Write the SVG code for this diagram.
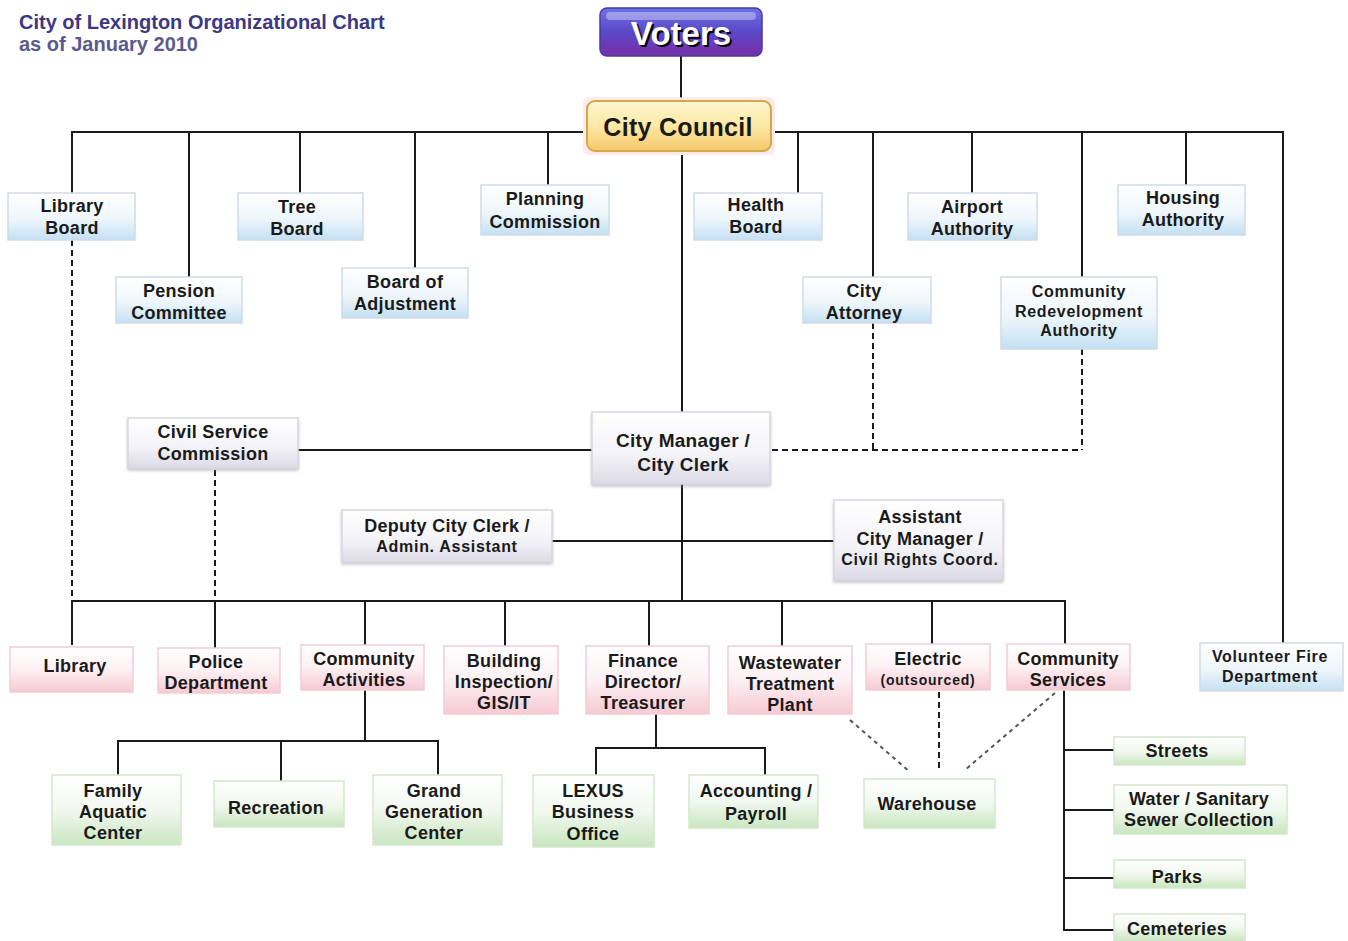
<svg xmlns="http://www.w3.org/2000/svg" width="1348" height="941" viewBox="0 0 1348 941">
<defs>
<linearGradient id="gBlue" x1="0" y1="0" x2="0" y2="1"><stop offset="0" stop-color="#ffffff"/><stop offset="0.55" stop-color="#eef6fb"/><stop offset="1" stop-color="#c4e0f3"/></linearGradient>
<linearGradient id="gPink" x1="0" y1="0" x2="0" y2="1"><stop offset="0" stop-color="#ffffff"/><stop offset="0.5" stop-color="#fdf0f3"/><stop offset="1" stop-color="#f6c9d3"/></linearGradient>
<linearGradient id="gGreen" x1="0" y1="0" x2="0" y2="1"><stop offset="0" stop-color="#ffffff"/><stop offset="0.5" stop-color="#f1f8ef"/><stop offset="1" stop-color="#c9e6c0"/></linearGradient>
<linearGradient id="gGray" x1="0" y1="0" x2="0" y2="1"><stop offset="0" stop-color="#ffffff"/><stop offset="0.6" stop-color="#f3f2f7"/><stop offset="1" stop-color="#dcdae6"/></linearGradient>
<linearGradient id="gVoters" x1="0" y1="0" x2="0" y2="1"><stop offset="0" stop-color="#6f73e6"/><stop offset="0.5" stop-color="#5a48c8"/><stop offset="1" stop-color="#7a2ea8"/></linearGradient>
<linearGradient id="gCouncil" x1="0" y1="0" x2="0" y2="1"><stop offset="0" stop-color="#fff6cf"/><stop offset="0.5" stop-color="#fde9a6"/><stop offset="1" stop-color="#f4c76a"/></linearGradient>
<filter id="sh" x="-10%" y="-10%" width="120%" height="130%"><feDropShadow dx="0" dy="2" stdDeviation="1.5" flood-color="#888" flood-opacity="0.45"/></filter>
</defs>
<style>
.t{font-family:"Liberation Sans",Arial,sans-serif;font-weight:bold;font-size:18px;letter-spacing:0.3px;fill:#1a1a1a;text-anchor:middle}
.s{font-size:16px;letter-spacing:0.7px}
.xs{font-size:14px;letter-spacing:0.8px}
.hd{font-family:"Liberation Sans",Arial,sans-serif;font-weight:bold;font-size:20px}
.ln{stroke:#1a1a1a;stroke-width:2;fill:none}
.dl{stroke:#1a1a1a;stroke-width:2;fill:none;stroke-dasharray:6,4}
.dg{stroke:#555;stroke-width:2;fill:none;stroke-dasharray:4,4}
.blue{fill:url(#gBlue);stroke:#cfdbe8;stroke-width:1.5}
.pink{fill:url(#gPink);stroke:#f2cdd6;stroke-width:1.5}
.green{fill:url(#gGreen);stroke:#d4e8cd;stroke-width:1.5}
.gray{fill:url(#gGray);stroke:#d8d6e2;stroke-width:1.5;filter:url(#sh)}
</style>
<rect width="1348" height="941" fill="#ffffff"/>
<g id="title">
<text class="hd" x="19" y="29" fill="#3d3884">City of Lexington Organizational Chart</text>
<text class="hd" x="19" y="51" fill="#5b5a8e">as of January 2010</text>
</g>
<g id="connectors">
<path class="ln" d="M681,56V98"/>
<path class="ln" d="M72,193V132H583M775,132H1283V643"/>
<path class="ln" d="M189,132V277M300,132V193M415,132V268M548,132V185M798,132V193M873,132V277M972,132V193M1082,132V277M1186,132V185"/>
<path class="ln" d="M682,155V412"/>
<path class="ln" d="M298,450H592"/>
<path class="ln" d="M682,484V601M552,541H834"/>
<path class="ln" d="M72,645V601H1065V644M215,601V648M365,601V645M505,601V646M649,601V646M782,601V646M932,601V644"/>
<path class="dl" d="M72,240V601M215,470V601"/>
<path class="dl" d="M873,323V450M1082,349V450M772,450H1082"/>
<path class="ln" d="M365,690V741M118,775V741H438V775M281,741V781"/>
<path class="ln" d="M656,714V748M596,775V748H765V775"/>
<path class="dg" d="M850,720L910,772M1055,693L965,770"/>
<path class="dl" d="M939,692V772"/>
<path class="ln" d="M1064,690V930H1114M1064,750H1114M1064,810H1114M1064,878H1114"/>
</g>
<g id="voters">
<rect x="600" y="8" width="162" height="48" rx="7" fill="url(#gVoters)" stroke="#4a3aa0" stroke-width="1.5"/>
<rect x="606" y="12" width="150" height="8" rx="4" fill="#ffffff" opacity="0.35"/>
<text x="681" y="45" style="font-family:'Liberation Sans',Arial,sans-serif;font-weight:bold;font-size:33px;fill:#000;text-anchor:middle" transform="translate(2,2)">Voters</text>
<text x="681" y="45" style="font-family:'Liberation Sans',Arial,sans-serif;font-weight:bold;font-size:33px;fill:#ffffff;text-anchor:middle">Voters</text>
</g>
<g id="city-council">
<rect x="583" y="97" width="192" height="58" rx="6" fill="#fbe3e3" opacity="0.7"/>
<rect x="587" y="101" width="184" height="50" rx="8" fill="url(#gCouncil)" stroke="#d8a64a" stroke-width="2"/>
<text class="t" x="678" y="136" style="font-size:25px;letter-spacing:0.3px">City Council</text>
</g>
<g id="library-board"><rect class="blue" x="8" y="193" width="127" height="47"/><text class="t" x="72" y="212">Library</text><text class="t" x="72" y="234">Board</text></g>
<g id="pension-committee"><rect class="blue" x="116" y="277" width="126" height="46"/><text class="t" x="179" y="297">Pension</text><text class="t" x="179" y="319">Committee</text></g>
<g id="tree-board"><rect class="blue" x="238" y="193" width="125" height="47"/><text class="t" x="297" y="213">Tree</text><text class="t" x="297" y="235">Board</text></g>
<g id="board-of-adjustment"><rect class="blue" x="342" y="268" width="126" height="50"/><text class="t" x="405" y="288">Board of</text><text class="t" x="405" y="310">Adjustment</text></g>
<g id="planning-commission"><rect class="blue" x="481" y="185" width="128" height="50"/><text class="t" x="545" y="205">Planning</text><text class="t" x="545" y="228">Commission</text></g>
<g id="health-board"><rect class="blue" x="694" y="193" width="128" height="47"/><text class="t" x="756" y="211">Health</text><text class="t" x="756" y="233">Board</text></g>
<g id="city-attorney"><rect class="blue" x="803" y="277" width="128" height="46"/><text class="t" x="864" y="297">City</text><text class="t" x="864" y="319">Attorney</text></g>
<g id="airport-authority"><rect class="blue" x="908" y="193" width="129" height="47"/><text class="t" x="972" y="213">Airport</text><text class="t" x="972" y="235">Authority</text></g>
<g id="community-redevelopment-authority"><rect class="blue" x="1001" y="277" width="156" height="72"/><text class="t s" x="1079" y="297">Community</text><text class="t s" x="1079" y="317">Redevelopment</text><text class="t s" x="1079" y="336">Authority</text></g>
<g id="housing-authority"><rect class="blue" x="1118" y="185" width="127" height="50"/><text class="t" x="1183" y="204">Housing</text><text class="t" x="1183" y="226">Authority</text></g>
<g id="civil-service-commission"><rect class="gray" x="128" y="418" width="170" height="50"/><text class="t" x="213" y="438">Civil Service</text><text class="t" x="213" y="460">Commission</text></g>
<g id="city-manager"><rect class="gray" x="592" y="412" width="178" height="72"/><text class="t" x="683" y="447" style="font-size:19px">City Manager /</text><text class="t" x="683" y="471" style="font-size:19px">City Clerk</text></g>
<g id="deputy-city-clerk"><rect class="gray" x="342" y="510" width="210" height="52"/><text class="t" x="447" y="532">Deputy City Clerk /</text><text class="t s" x="447" y="552">Admin. Assistant</text></g>
<g id="assistant-city-manager"><rect class="gray" x="834" y="500" width="169" height="80"/><text class="t" x="920" y="523">Assistant</text><text class="t" x="920" y="545">City Manager /</text><text class="t s" x="920" y="565">Civil Rights Coord.</text></g>
<g id="library"><rect class="pink" x="10" y="647" width="123" height="45"/><text class="t" x="75" y="672">Library</text></g>
<g id="police-department"><rect class="pink" x="158" y="648" width="122" height="45"/><text class="t" x="216" y="668">Police</text><text class="t" x="216" y="689">Department</text></g>
<g id="community-activities"><rect class="pink" x="301" y="645" width="123" height="45"/><text class="t" x="364" y="665">Community</text><text class="t" x="364" y="686">Activities</text></g>
<g id="building-inspection"><rect class="pink" x="444" y="646" width="114" height="68"/><text class="t" x="504" y="667">Building</text><text class="t" x="504" y="688">Inspection/</text><text class="t" x="504" y="709">GIS/IT</text></g>
<g id="finance-director"><rect class="pink" x="586" y="646" width="123" height="68"/><text class="t" x="643" y="667">Finance</text><text class="t" x="643" y="688">Director/</text><text class="t" x="643" y="709">Treasurer</text></g>
<g id="wastewater-treatment-plant"><rect class="pink" x="728" y="646" width="124" height="68"/><text class="t" x="790" y="669">Wastewater</text><text class="t" x="790" y="690">Treatment</text><text class="t" x="790" y="711">Plant</text></g>
<g id="electric"><rect class="pink" x="866" y="644" width="124" height="46"/><text class="t" x="928" y="665">Electric</text><text class="t xs" x="928" y="685">(outsourced)</text></g>
<g id="community-services"><rect class="pink" x="1007" y="644" width="123" height="46"/><text class="t" x="1068" y="665">Community</text><text class="t" x="1068" y="686">Services</text></g>
<g id="volunteer-fire-department"><rect class="blue" x="1200" y="643" width="143" height="48"/><text class="t s" x="1270" y="662">Volunteer Fire</text><text class="t s" x="1270" y="682">Department</text></g>
<g id="family-aquatic-center"><rect class="green" x="52" y="775" width="129" height="70"/><text class="t" x="113" y="797">Family</text><text class="t" x="113" y="818">Aquatic</text><text class="t" x="113" y="839">Center</text></g>
<g id="recreation"><rect class="green" x="214" y="781" width="130" height="46"/><text class="t" x="276" y="814">Recreation</text></g>
<g id="grand-generation-center"><rect class="green" x="373" y="775" width="129" height="70"/><text class="t" x="434" y="797">Grand</text><text class="t" x="434" y="818">Generation</text><text class="t" x="434" y="839">Center</text></g>
<g id="lexus-business-office"><rect class="green" x="533" y="775" width="121" height="72"/><text class="t" x="593" y="797">LEXUS</text><text class="t" x="593" y="818">Business</text><text class="t" x="593" y="840">Office</text></g>
<g id="accounting-payroll"><rect class="green" x="689" y="775" width="129" height="53"/><text class="t" x="756" y="797">Accounting /</text><text class="t" x="756" y="820">Payroll</text></g>
<g id="warehouse"><rect class="green" x="864" y="779" width="131" height="49"/><text class="t" x="927" y="810">Warehouse</text></g>
<g id="streets"><rect class="green" x="1114" y="737" width="131" height="28"/><text class="t" x="1177" y="757">Streets</text></g>
<g id="water-sanitary"><rect class="green" x="1114" y="785" width="173" height="49"/><text class="t" x="1199" y="805">Water / Sanitary</text><text class="t" x="1199" y="826">Sewer Collection</text></g>
<g id="parks"><rect class="green" x="1114" y="860" width="131" height="28"/><text class="t" x="1177" y="883">Parks</text></g>
<g id="cemeteries"><rect class="green" x="1114" y="914" width="131" height="27"/><text class="t" x="1177" y="935">Cemeteries</text></g>
</svg>
